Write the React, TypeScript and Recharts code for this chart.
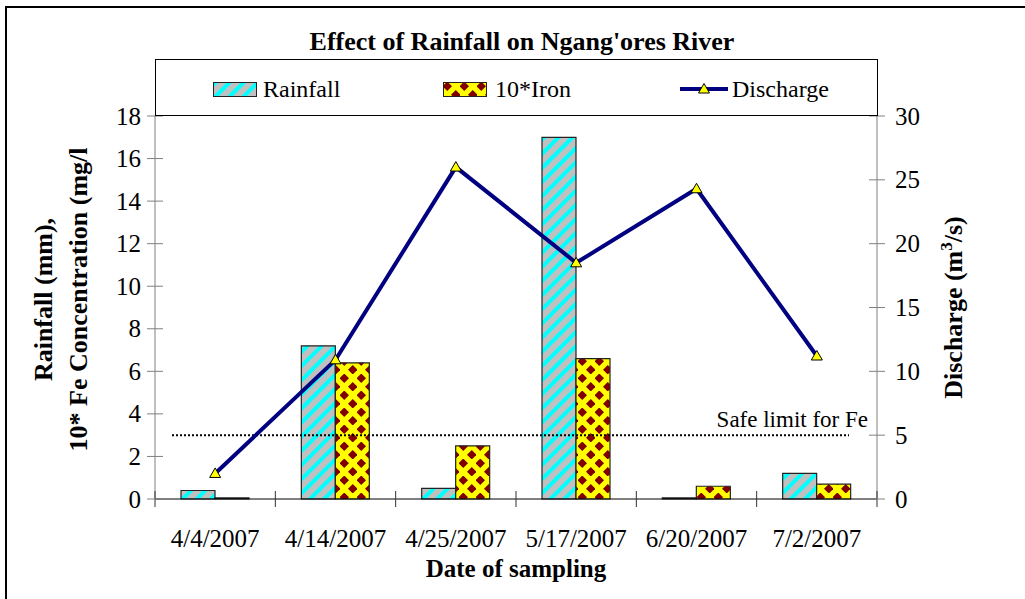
import React from "react";
import { ComposedChart, Bar, Line, XAxis, YAxis, ReferenceLine, Legend } from "recharts";

// sampling dates and measured values
const dates = ["4/4/2007", "4/14/2007", "4/25/2007", "5/17/2007", "6/20/2007", "7/2/2007"];
const rainfall = [0.4, 7.2, 0.5, 17.0, 0.05, 1.2];
const iron10 = [0.05, 6.4, 2.5, 6.6, 0.6, 0.7];
const discharge = [2.0, 10.9, 26.0, 18.5, 24.3, 11.2];

const leftTicks = [0, 2, 4, 6, 8, 10, 12, 14, 16, 18];
const rightTicks = [0, 5, 10, 15, 20, 25, 30];
const safeLimit = 3;

const data = dates.map((date, i) => ({
  date,
  rainfall: rainfall[i],
  iron: iron10[i],
  discharge: discharge[i],
}));

const FONT = '"Liberation Serif", "Times New Roman", serif';
const W = 1025;
const H = 599;
const LEFT_W = 155;
const RIGHT_W = 148;
const band = (W - LEFT_W - RIGHT_W) / dates.length;

function RainPattern({ id }: { id: string }) {
  return (
    <pattern id={id} patternUnits="userSpaceOnUse" width={10} height={10} patternTransform="rotate(45)">
      <rect width={10} height={10} fill="#c0c0c0" />
      <rect width={4} height={10} fill="#00ffff" />
    </pattern>
  );
}

function IronPattern({ id }: { id: string }) {
  return (
    <pattern id={id} patternUnits="userSpaceOnUse" width={17} height={17}>
      <rect width={17} height={17} fill="#ffff00" />
      <polygon points="4.25,-0.5 9,4.25 4.25,9 -0.5,4.25" fill="#800000" />
      <polygon points="12.75,8 17.5,12.75 12.75,17.5 8,12.75" fill="#800000" />
    </pattern>
  );
}

function LeftTick(props: any) {
  const { x, y, payload } = props;
  return (
    <g>
      <line x1={x - 8} x2={x + 8} y1={y} y2={y} stroke="#808080" />
      <text x={x - 14} y={y} dy="0.34em" textAnchor="end" fontFamily={FONT} fontSize={25} fill="#000">
        {payload.value}
      </text>
    </g>
  );
}

function RightTick(props: any) {
  const { x, y, payload } = props;
  return (
    <g>
      <line x1={x - 8} x2={x + 8} y1={y} y2={y} stroke="#808080" />
      <text x={x + 18} y={y} dy="0.34em" textAnchor="start" fontFamily={FONT} fontSize={25} fill="#000">
        {payload.value}
      </text>
    </g>
  );
}

function DateTick(props: any) {
  const { x, y, payload, index } = props;
  const last = index === dates.length - 1;
  return (
    <g>
      <line x1={x - band / 2} x2={x - band / 2} y1={y - 8} y2={y + 8} stroke="#333" />
      {last && <line x1={x + band / 2} x2={x + band / 2} y1={y - 8} y2={y + 8} stroke="#333" />}
      <text x={x} y={y + 48} textAnchor="middle" fontFamily={FONT} fontSize={25} fill="#000">
        {payload.value}
      </text>
    </g>
  );
}

function Triangle(props: any) {
  const { cx, cy, index } = props;
  if (cx == null || cy == null) return <g key={index} />;
  return (
    <polygon
      key={index}
      points={`${cx},${cy - 5.5} ${cx - 5.5},${cy + 4} ${cx + 5.5},${cy + 4}`}
      fill="#ffff00"
      stroke="#000"
      strokeWidth={1}
    />
  );
}

function SafeLimit(props: any) {
  const { x1, x2, y1 } = props;
  return (
    <g>
      <line x1={x1 + 17} x2={x2 - 28} y1={y1} y2={y1} stroke="#000" strokeWidth={2} strokeDasharray="2 2" />
      <text x={x2 - 9} y={y1 - 8} textAnchor="end" fontFamily={FONT} fontSize={23} fill="#000">
        Safe limit for Fe
      </text>
    </g>
  );
}

function LegendBox() {
  const item: React.CSSProperties = { position: "absolute", top: 14, lineHeight: "30px", fontSize: 24 };
  return (
    <div
      style={{
        position: "relative",
        width: 723,
        height: 57,
        boxSizing: "border-box",
        border: "1px solid #000",
        background: "#fff",
        fontFamily: FONT,
        color: "#000",
      }}
    >
      <svg style={{ position: "absolute", left: 57, top: 22 }} width={44} height={15}>
        <defs>
          <RainPattern id="legRain" />
        </defs>
        <rect x={0.5} y={0.5} width={43} height={14} fill="url(#legRain)" stroke="#222" />
      </svg>
      <span style={{ ...item, left: 107 }}>Rainfall</span>
      <svg style={{ position: "absolute", left: 287, top: 22 }} width={44} height={15}>
        <defs>
          <IronPattern id="legIron" />
        </defs>
        <rect x={0.5} y={0.5} width={43} height={14} fill="url(#legIron)" stroke="#222" />
      </svg>
      <span style={{ ...item, left: 339 }}>10*Iron</span>
      <svg style={{ position: "absolute", left: 524, top: 20 }} width={48} height={18}>
        <line x1={0} x2={48} y1={9} y2={9} stroke="#000080" strokeWidth={4} />
        <polygon points="24,3.5 18.5,13 29.5,13" fill="#ffff00" stroke="#000" strokeWidth={1} />
      </svg>
      <span style={{ ...item, left: 576 }}>Discharge</span>
    </div>
  );
}

export default function App() {
  return (
    <div style={{ position: "absolute", left: 0, top: 0, width: W, height: H, overflow: "hidden", background: "#fff" }}>
      <ComposedChart
        width={W}
        height={H}
        data={data}
        margin={{ top: 59, right: 0, bottom: 0, left: 0 }}
        barGap={0}
        barSize={34}
      >
        <defs>
          <RainPattern id="rainFill" />
          <IronPattern id="ironFill" />
        </defs>
        <Legend
          verticalAlign="top"
          content={() => <LegendBox />}
          wrapperStyle={{ left: LEFT_W, top: 59, width: 723, height: 57 }}
        />
        <XAxis
          dataKey="date"
          height={100}
          interval={0}
          tickSize={0}
          tickMargin={0}
          tickLine={false}
          axisLine={{ stroke: "#000" }}
          tick={<DateTick />}
          label={{
            content: (p: any) => {
              const vb = p.viewBox;
              return (
                <text x={vb.x + vb.width / 2} y={vb.y + 78} textAnchor="middle" fontFamily={FONT} fontSize={25} fontWeight="bold" fill="#000">
                  Date of sampling
                </text>
              );
            },
          }}
        />
        <YAxis
          yAxisId="left"
          width={LEFT_W}
          domain={[0, 18]}
          ticks={leftTicks}
          tickSize={0}
          tickMargin={0}
          tickLine={false}
          axisLine={{ stroke: "#808080" }}
          tick={<LeftTick />}
          label={{
            content: (p: any) => {
              const vb = p.viewBox;
              const cy = vb.y + vb.height / 2 - 8;
              return (
                <g fontFamily={FONT} fontSize={26} fontWeight="bold" fill="#000">
                  <text x={52} y={cy} textAnchor="middle" transform={`rotate(-90 52 ${cy})`}>
                    Rainfall (mm),
                  </text>
                  <text x={87} y={cy} textAnchor="middle" transform={`rotate(-90 87 ${cy})`}>
                    10* Fe Concentration (mg/l
                  </text>
                </g>
              );
            },
          }}
        />
        <YAxis
          yAxisId="right"
          orientation="right"
          width={RIGHT_W}
          domain={[0, 30]}
          ticks={rightTicks}
          tickSize={0}
          tickMargin={0}
          tickLine={false}
          axisLine={{ stroke: "#808080" }}
          tick={<RightTick />}
          label={{
            content: (p: any) => {
              const vb = p.viewBox;
              const cy = vb.y + vb.height / 2;
              const x = 962;
              return (
                <text x={x} y={cy} textAnchor="middle" transform={`rotate(-90 ${x} ${cy})`} fontFamily={FONT} fontSize={26} fontWeight="bold" fill="#000">
                  Discharge (m
                  <tspan dy={-10} fontSize={17}>3</tspan>
                  <tspan dy={10}>/s)</tspan>
                </text>
              );
            },
          }}
        />
        <ReferenceLine yAxisId="left" y={safeLimit} shape={<SafeLimit />} />
        <Bar yAxisId="left" dataKey="rainfall" name="Rainfall" fill="url(#rainFill)" stroke="#222" strokeWidth={1.2} isAnimationActive={false} />
        <Bar yAxisId="left" dataKey="iron" name="10*Iron" fill="url(#ironFill)" stroke="#222" strokeWidth={1.2} isAnimationActive={false} />
        <Line
          yAxisId="right"
          type="linear"
          dataKey="discharge"
          name="Discharge"
          stroke="#000080"
          strokeWidth={4}
          dot={(p: any) => <Triangle key={p.index} {...p} />}
          activeDot={false}
          isAnimationActive={false}
        />
      </ComposedChart>
      <svg style={{ position: "absolute", left: 0, top: 0, pointerEvents: "none" }} width={W} height={H}>
        <rect x={6} y={7} width={W + 20} height={H + 20} fill="none" stroke="#000" strokeWidth={2} />
        <text x={522} y={50} textAnchor="middle" fontFamily={FONT} fontSize={26} fontWeight="bold" fill="#000">
          Effect of Rainfall on Ngang'ores River
        </text>
      </svg>
    </div>
  );
}
